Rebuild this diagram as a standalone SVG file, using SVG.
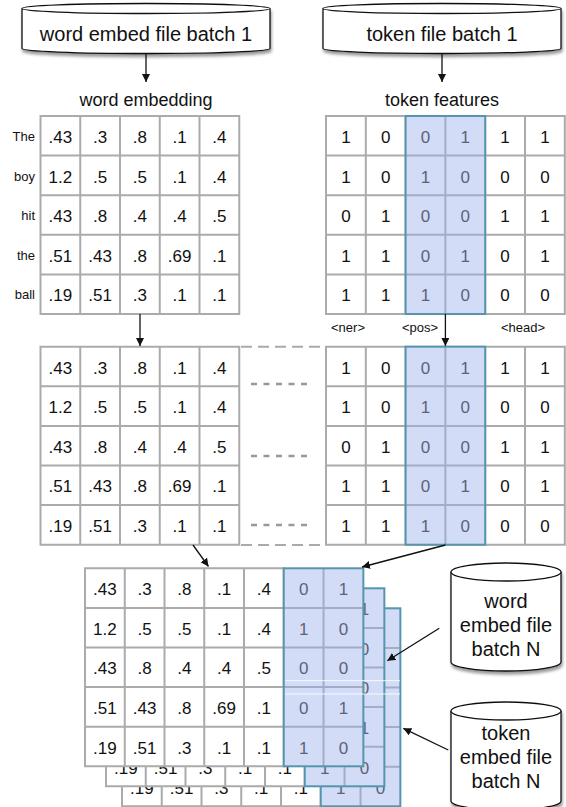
<svg xmlns="http://www.w3.org/2000/svg" xmlns:xlink="http://www.w3.org/1999/xlink" width="566" height="807" viewBox="0 0 566 807">
<style>
text{font-family:"Liberation Sans",Arial,Helvetica,sans-serif;}
.v{font-size:17px;text-anchor:middle;fill:#111;}
.p{font-size:17px;text-anchor:middle;fill:#5C6378;}
.lbl{font-size:13px;fill:#111;}
.ttl{font-size:18px;text-anchor:middle;fill:#111;}
.cyt{font-size:20px;text-anchor:middle;fill:#111;}
.grid{fill:none;stroke:#ABABAB;stroke-width:2;}
.cyl{fill:#fff;stroke:#111;stroke-width:1.3;}
.arr{fill:none;stroke:#111;stroke-width:1.3;marker-end:url(#ah);}
.ld{fill:none;stroke:#AAAAAA;stroke-width:2;stroke-dasharray:11 6;}
.sd{fill:none;stroke:#999;stroke-width:2.5;stroke-dasharray:6 6.5;}
</style>
<defs>
<marker id="ah" viewBox="0 0 10 10" refX="10" refY="5" markerWidth="8" markerHeight="8" markerUnits="userSpaceOnUse" orient="auto">
<path d="M0,0 L10,5 L0,10 Z" fill="#111"/>
</marker>
<filter id="sh" x="-10%" y="-20%" width="120%" height="150%">
<feDropShadow dx="1" dy="3" stdDeviation="1.5" flood-color="#000" flood-opacity="0.4"/>
</filter>
<g id="wordGrid">
<rect x="0" y="0" width="198.75" height="198" fill="#fff"/>
<path class="grid" d="M0,0H198.75V198H0Z M39.75,0V198 M79.5,0V198 M119.25,0V198 M159,0V198 M0,39.6H198.75 M0,79.2H198.75 M0,118.8H198.75 M0,158.4H198.75"/>
<text class="v" x="19.9" y="27">.43</text><text class="v" x="59.6" y="27">.3</text><text class="v" x="99.4" y="27">.8</text><text class="v" x="139.1" y="27">.1</text><text class="v" x="178.9" y="27">.4</text>
<text class="v" x="19.9" y="66.6">1.2</text><text class="v" x="59.6" y="66.6">.5</text><text class="v" x="99.4" y="66.6">.5</text><text class="v" x="139.1" y="66.6">.1</text><text class="v" x="178.9" y="66.6">.4</text>
<text class="v" x="19.9" y="106.2">.43</text><text class="v" x="59.6" y="106.2">.8</text><text class="v" x="99.4" y="106.2">.4</text><text class="v" x="139.1" y="106.2">.4</text><text class="v" x="178.9" y="106.2">.5</text>
<text class="v" x="19.9" y="145.8">.51</text><text class="v" x="59.6" y="145.8">.43</text><text class="v" x="99.4" y="145.8">.8</text><text class="v" x="139.1" y="145.8">.69</text><text class="v" x="178.9" y="145.8">.1</text>
<text class="v" x="19.9" y="185.4">.19</text><text class="v" x="59.6" y="185.4">.51</text><text class="v" x="99.4" y="185.4">.3</text><text class="v" x="139.1" y="185.4">.1</text><text class="v" x="178.9" y="185.4">.1</text>
</g>
<g id="posCols">
<rect x="0" y="0" width="79.6" height="198" fill="#D2DCF7"/>
<path d="M39.8,0V198 M0,39.6H79.6 M0,79.2H79.6 M0,118.8H79.6 M0,158.4H79.6" fill="none" stroke="#A4ACC6" stroke-width="2"/>
<text class="p" x="19.9" y="27">0</text><text class="p" x="59.7" y="27">1</text>
<text class="p" x="19.9" y="66.6">1</text><text class="p" x="59.7" y="66.6">0</text>
<text class="p" x="19.9" y="106.2">0</text><text class="p" x="59.7" y="106.2">0</text>
<text class="p" x="19.9" y="145.8">0</text><text class="p" x="59.7" y="145.8">1</text>
<text class="p" x="19.9" y="185.4">1</text><text class="p" x="59.7" y="185.4">0</text>
<rect x="0" y="0" width="79.6" height="198" fill="none" stroke="#5696AC" stroke-width="2"/>
</g>
<g id="tokenGrid">
<rect x="0" y="0" width="238.8" height="198" fill="#fff"/>
<path class="grid" d="M0,0H238.8V198H0Z M39.8,0V198 M79.6,0V198 M119.4,0V198 M159.2,0V198 M199,0V198 M0,39.6H238.8 M0,79.2H238.8 M0,118.8H238.8 M0,158.4H238.8"/>
<text class="v" x="19.9" y="27">1</text><text class="v" x="59.7" y="27">0</text><text class="v" x="179.1" y="27">1</text><text class="v" x="218.9" y="27">1</text>
<text class="v" x="19.9" y="66.6">1</text><text class="v" x="59.7" y="66.6">0</text><text class="v" x="179.1" y="66.6">0</text><text class="v" x="218.9" y="66.6">0</text>
<text class="v" x="19.9" y="106.2">0</text><text class="v" x="59.7" y="106.2">1</text><text class="v" x="179.1" y="106.2">1</text><text class="v" x="218.9" y="106.2">1</text>
<text class="v" x="19.9" y="145.8">1</text><text class="v" x="59.7" y="145.8">1</text><text class="v" x="179.1" y="145.8">0</text><text class="v" x="218.9" y="145.8">1</text>
<text class="v" x="19.9" y="185.4">1</text><text class="v" x="59.7" y="185.4">1</text><text class="v" x="179.1" y="185.4">0</text><text class="v" x="218.9" y="185.4">0</text>
<use xlink:href="#posCols" href="#posCols" x="79.6" y="0"/>
</g>
<g id="stackLayer">
<use xlink:href="#wordGrid" href="#wordGrid"/>
<use xlink:href="#posCols" href="#posCols" x="198.75" y="0"/>
</g>
</defs>

<g id="word-file-batch-1">
<path class="cyl" filter="url(#sh)" d="M22,8.5 A124,5 0 0 1 270,8.5 V48.5 A124,5 0 0 1 22,48.5 Z"/>
<path class="cyl" fill="none" d="M22,8.5 A124,5 0 0 0 270,8.5"/>
<text class="cyt" x="146" y="41">word embed file batch 1</text>
</g>
<g id="token-file-batch-1">
<path class="cyl" filter="url(#sh)" d="M323,8.5 A119,5 0 0 1 561,8.5 V48.5 A119,5 0 0 1 323,48.5 Z"/>
<path class="cyl" fill="none" d="M323,8.5 A119,5 0 0 0 561,8.5"/>
<text class="cyt" x="442" y="41">token file batch 1</text>
</g>

<g id="word-embedding">
<text class="ttl" x="146" y="106">word embedding</text>
<text class="lbl" text-anchor="end" x="35" y="141">The</text>
<text class="lbl" text-anchor="end" x="35" y="180.6">boy</text>
<text class="lbl" text-anchor="end" x="35" y="220.2">hit</text>
<text class="lbl" text-anchor="end" x="35" y="259.8">the</text>
<text class="lbl" text-anchor="end" x="35" y="299.4">ball</text>
<use xlink:href="#wordGrid" href="#wordGrid" x="40.5" y="116"/>
</g>

<g id="token-features">
<text class="ttl" x="442" y="106">token features</text>
<use xlink:href="#tokenGrid" href="#tokenGrid" x="326" y="116"/>
<text class="lbl" text-anchor="middle" x="348" y="332">&lt;ner&gt;</text>
<text class="lbl" text-anchor="middle" x="420" y="332">&lt;pos&gt;</text>
<text class="lbl" text-anchor="middle" x="523" y="332">&lt;head&gt;</text>
</g>

<g id="combined-word">
<use xlink:href="#wordGrid" href="#wordGrid" x="40.5" y="346.7"/>
</g>
<g id="combined-token">
<use xlink:href="#tokenGrid" href="#tokenGrid" x="326" y="346.7"/>
</g>
<g id="combined-join">
<path class="ld" d="M241,346.7H325 M241,545H325"/>
<path class="sd" d="M251,384H311 M251,456H311 M251,525H311"/>
</g>

<g id="batch-stack">
<use xlink:href="#stackLayer" href="#stackLayer" x="122" y="608.3"/>
<use xlink:href="#stackLayer" href="#stackLayer" x="106" y="588.3"/>
<use xlink:href="#stackLayer" href="#stackLayer" x="85" y="568.3"/>
<path d="M285,680.7H400 M285,694H400" stroke="#fff" stroke-opacity="0.85" stroke-width="1"/>
</g>

<g id="word-file-batch-N">
<path class="cyl" filter="url(#sh)" d="M451,572 A55,9 0 0 1 561,572 V662 A55,9 0 0 1 451,662 Z"/>
<path class="cyl" fill="none" d="M451,572 A55,9 0 0 0 561,572"/>
<text class="cyt" x="506" y="608">word</text>
<text class="cyt" x="506" y="632">embed file</text>
<text class="cyt" x="506" y="655.5">batch N</text>
</g>
<g id="token-file-batch-N">
<path class="cyl" filter="url(#sh)" d="M451,711 A55,9 0 0 1 561,711 V801 A55,9 0 0 1 451,801 Z"/>
<path class="cyl" fill="none" d="M451,711 A55,9 0 0 0 561,711"/>
<text class="cyt" x="506" y="739.5">token</text>
<text class="cyt" x="506" y="763.5">embed file</text>
<text class="cyt" x="506" y="788">batch N</text>
</g>

<g id="connectors">
<path class="arr" d="M146,54 V82"/>
<path class="arr" d="M442,54 V82"/>
<path class="arr" d="M140,314 V346"/>
<path class="arr" d="M445.4,314 V346"/>
<path class="arr" d="M193,545 L208.5,566.5"/>
<path class="arr" d="M445.4,545 L362,567"/>
<path class="arr" d="M439.3,628.3 L387.3,660.7"/>
<path class="arr" d="M448.3,750 L403.3,728.3"/>
</g>
</svg>
